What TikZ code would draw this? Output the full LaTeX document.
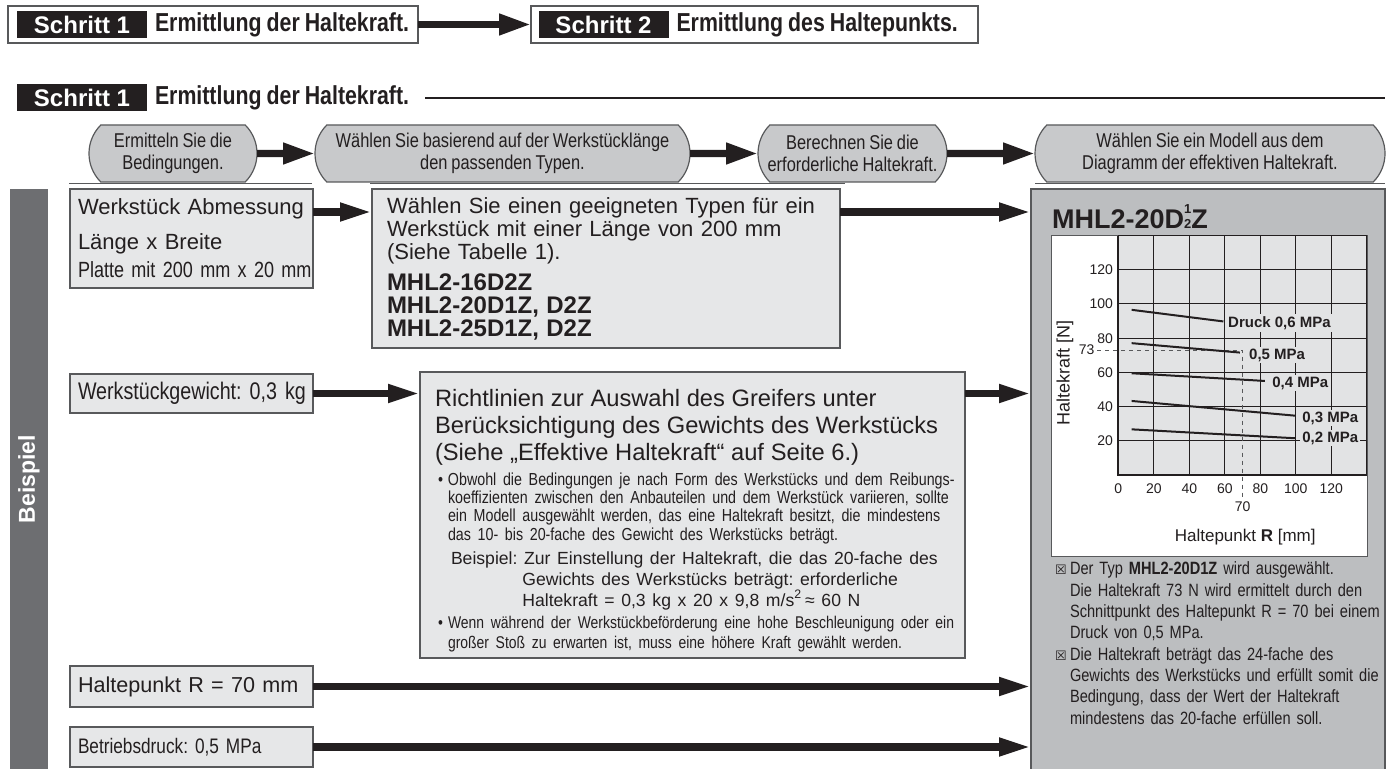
\documentclass[tikz,border=0pt]{standalone}
\usepackage{fontspec}
\setmainfont{Liberation Sans}
\newfontfamily\hknarrow[FakeStretch=0.82,WordSpace=0.85]{Liberation Sans}
\newfontfamily\hksym{DejaVu Sans}
\usetikzlibrary{positioning,arrows.meta,calc,shapes.misc}
\setlength{\parindent}{0pt}
\frenchspacing
\definecolor{hkBlack}{RGB}{35,31,32}
\definecolor{hkBar}{RGB}{109,110,113}
\definecolor{hkLight}{RGB}{230,231,232}
\definecolor{hkBubble}{RGB}{200,201,203}
\definecolor{hkPanel}{RGB}{188,190,192}
\definecolor{hkPlot}{RGB}{226,227,228}
\definecolor{hkEdge}{RGB}{88,89,91}
\tikzset{
    base/.style={inner sep=0pt, outer sep=0pt, text=hkBlack},
    headbox/.style={base, rectangle, draw=hkEdge, line width=0.6pt, fill=white},
    steptag/.style={base, fill=hkBlack, text=white, font=\bfseries\fontsize{12}{14}\selectfont,
                    minimum width=65pt, minimum height=13.5pt},
    headtext/.style={base, font=\hknarrow\bfseries\fontsize{13}{14}\selectfont},
    bubble/.style={base, rounded rectangle, rounded rectangle arc length=90, draw=hkEdge,
                   line width=0.6pt, fill=hkBubble, align=center, minimum height=28.5pt,
                   font=\hknarrow\fontsize{10}{11}\selectfont},
    inbox/.style={base, rectangle, draw=hkEdge, line width=0.6pt, fill=hkLight,
                  align=left, inner xsep=4pt, anchor=north west},
    bar/.style={base, rectangle, fill=hkBar, text=white, font=\bfseries\fontsize{11.5}{13}\selectfont},
    panel/.style={base, rectangle, draw=hkEdge, line width=0.6pt, fill=hkPanel},
    flow/.style={line width=3.6pt, hkBlack, -{Triangle[length=16pt,width=10pt]}},
    feed/.style={line width=3.6pt, hkBlack, -{Triangle[length=16pt,width=8.5pt]}},
    rule/.style={hkEdge, line width=0.5pt},
    gridline/.style={hkBlack, line width=0.5pt},
    axisline/.style={hkBlack, line width=1.1pt},
    curve/.style={hkBlack, line width=1pt},
    guide/.style={hkEdge, line width=0.5pt, dash pattern=on 2pt off 2pt},
    ticktext/.style={base, font=\fontsize{7}{8}\selectfont},
    curvetext/.style={base, anchor=west, fill=hkPlot, inner sep=1pt, font=\bfseries\fontsize{7.5}{8}\selectfont}
}

\begin{document}
\begin{tikzpicture}[x=0.5pt, y=-0.5pt]
  \useasboundingbox (0,0) rectangle (1390,769);

  % Step overview
  \node[headbox, minimum width=205pt, minimum height=18.5pt] (s1) at (213,24.5) {};
  \node[steptag] (l1) at (82,24.5) {Schritt 1};
  \node[headtext, right=4pt of l1] (t1) {Ermittlung der Haltekraft.};
  \node[headbox, minimum width=223.5pt, minimum height=18.5pt] (s2) at (754.5,24.5) {};
  \node[steptag] (l2) at (603.5,24.5) {Schritt 2};
  \node[headtext, right=4pt of l2] (t2) {Ermittlung des Haltepunkts.};
  \draw[flow] (s1) -- (s2);

  % Section title
  \node[steptag] (l3) at (82,98) {Schritt 1};
  \node[headtext, right=4pt of l3] (t3) {Ermittlung der Haltekraft.};
  \coordinate (ruleEnd) at (1385,98);
  \draw[hkBlack, line width=1pt] ([xshift=8pt]t3.east) -- (ruleEnd);

  % Procedure
  \node[bubble, minimum width=84pt] (b1) at (173,153.5) {Ermitteln Sie die\\Bedingungen.};
  \node[bubble, minimum width=187.5pt] (b2) at (502.5,153.5) {Wählen Sie basierend auf der Werkstücklänge\\den passenden Typen.};
  \node[bubble, minimum width=94.5pt] (b3) at (852.5,153.5) {Berechnen Sie die\\erforderliche Haltekraft.};
  \node[bubble, minimum width=175pt] (b4) at (1210,153.5) {Wählen Sie ein Modell aus dem\\Diagramm der effektiven Haltekraft.};
  \draw[flow] (b1) -- (b2);
  \draw[flow] (b2) -- (b3);
  \draw[flow] (b3) -- (b4);
  \draw[rule] (69,184) -- (312,184);
  \draw[rule] (370,184) -- (845,184);
  \draw[rule] (1035,184) -- (1385,184);

  % Example column
  \node[bar, minimum width=19pt, minimum height=290pt] (bsp) at (29,479) {\rotatebox{90}{Beispiel}};

  % Given data
  \node[inbox, text width=113.5pt, minimum height=49.5pt, font=\fontsize{11}{14}\selectfont] (dims) at (70,189)
    {\mbox{Werkstück Abmessung}\\[3.5pt]\mbox{Länge x Breite}\\\mbox{\hknarrow Platte mit 200 mm x 20 mm}};
  \node[inbox, text width=113.5pt, minimum height=19.5pt, font=\hknarrow\fontsize{12}{14}\selectfont] (weight) at (70,374)
    {\mbox{Werkstückgewicht: 0,3 kg}};
  \node[inbox, text width=113.5pt, minimum height=20.5pt, font=\fontsize{10.8}{13}\selectfont] (hold) at (70,666)
    {\mbox{Haltepunkt R = 70 mm}};
  \node[inbox, text width=113.5pt, minimum height=20pt, font=\hknarrow\fontsize{10.5}{13}\selectfont] (press) at (70,727)
    {\mbox{Betriebsdruck: 0,5 MPa}};

  % Type choice
  \node[inbox, inner xsep=7.5pt, text width=219pt, minimum height=79.5pt, font=\fontsize{11}{11.5}\selectfont] (types) at (372,189)
    {Wählen Sie einen geeigneten Typen für ein\\Werkstück mit einer Länge von 200 mm\\(Siehe Tabelle 1).\\[4pt]%
     \bfseries\fontsize{12}{11.5}\selectfont MHL2-16D2Z\\MHL2-20D1Z, D2Z\\MHL2-25D1Z, D2Z};

  % Guideline
  \node[inbox, minimum width=272.5pt, minimum height=143pt] (guide) at (420,372) {};
  \node[base, anchor=north west, text width=280pt, align=left] (guidetext) at (435,389) {%
    {\fontsize{11.85}{13.5}\selectfont Richtlinien zur Auswahl des Greifers unter\\Berücksichtigung des Gewichts des Werkstücks\\(Siehe „Effektive Haltekraft“ auf Seite 6.)\par}
    \vspace{3.3pt}
    {\hknarrow\fontsize{8.7}{9.2}\selectfont \hspace*{1.5pt}\makebox[5pt][l]{•}Obwohl die Bedingungen je nach Form des Werkstücks und dem Reibungs-\\
     \hspace*{6.5pt}koeffizienten zwischen den Anbauteilen und dem Werkstück variieren, sollte\\
     \hspace*{6.5pt}ein Modell ausgewählt werden, das eine Haltekraft besitzt, die mindestens\\
     \hspace*{6.5pt}das 10- bis 20-fache des Gewicht des Werkstücks beträgt.\par}
    \vspace{1.5pt}
    {\fontsize{8.8}{10.5}\selectfont \hspace*{8pt}Beispiel: Zur Einstellung der Haltekraft, die das 20-fache des\\
     \hspace*{43.7pt}Gewichts des Werkstücks beträgt: erforderliche\\
     \hspace*{43.7pt}Haltekraft = 0,3 kg x 20 x 9,8 m/s\textsuperscript{2}\,≈ 60 N\par}
    \vspace{1pt}
    {\hknarrow\fontsize{8.5}{10}\selectfont \hspace*{1.5pt}\makebox[5pt][l]{•}Wenn während der Werkstückbeförderung eine hohe Beschleunigung oder ein\\
     \hspace*{6.5pt}großer Stoß zu erwarten ist, muss eine höhere Kraft gewählt werden.\par}};

  % Chart panel
  \node[panel, minimum width=177pt, minimum height=300pt] (chart) at (1208,489) {};
  \node[base, anchor=west, font=\bfseries\fontsize{13.5}{15}\selectfont] (title) at (1052,217)
    {MHL2-20D\shortstack{\fontsize{6.5}{6}\selectfont 1\\\fontsize{6.5}{6}\selectfont 2}Z};
  \draw[hkEdge, line width=0.5pt, fill=white] (1051,236) rectangle (1367,556);

  \begin{scope}[shift={(1118.3,475)}, x=0.8875pt, y=0.855pt]
    \fill[hkPlot] (0,0) rectangle (140,140);
    \foreach \v in {20,40,...,140} {
      \draw[gridline] (\v,0) -- (\v,140);
      \draw[gridline] (0,\v) -- (140,\v);
    }
    \draw[axisline] (0,140) -- (0,0) -- (140,0);
    \foreach \v in {0,20,...,120}
      \node[ticktext] (xt\v) at (\v,-8.2) {\v};
    \foreach \v in {20,40,...,120}
      \node[ticktext, anchor=east] (yt\v) at (-3,\v) {\v};
    \draw[guide] (-12,73) -- (70,73) -- (70,-14.5);
    \node[ticktext, anchor=east] (y73) at (-13.5,73) {73};
    \node[ticktext] (x70) at (70,-18.3) {70};
    % pressure lines
    \draw[curve] (7.5,96.6) -- (59.2,89.8);
    \draw[curve] (7.5,77.1) -- (68.5,71.6);
    \draw[curve] (7.5,59.5) -- (82.6,55);
    \draw[curve] (7.5,43.3) -- (99.5,34.7);
    \draw[curve] (7.5,26.7) -- (99.5,21.5);
    \node[curvetext] (p6) at (60.8,88.9) {Druck 0,6 MPa};
    \node[curvetext] (p5) at (72.6,70.2) {0,5 MPa};
    \node[curvetext] (p4) at (85.6,53.8) {0,4 MPa};
    \node[curvetext] (p3) at (102.5,33.3) {0,3 MPa};
    \node[curvetext] (p2) at (102.5,21.6) {0,2 MPa};
    \node[base, rotate=90, font=\fontsize{9}{10}\selectfont] (ylab) at (-30,59.6) {Haltekraft [N]};
    \node[base, font=\fontsize{8.5}{10}\selectfont] (xlab) at (71.5,-36.3) {Haltepunkt \textbf{R} [mm]};
  \end{scope}

  \node[base, anchor=north west, text width=200pt, align=left, font=\hknarrow\fontsize{8.9}{10.65}\selectfont] (result) at (1055,562) {%
    \makebox[7.5pt][l]{\hksym\fontsize{6.5}{7}\selectfont ☒}Der Typ \textbf{MHL2-20D1Z} wird ausgewählt.\\
    \hspace*{7.5pt}Die Haltekraft 73 N wird ermittelt durch den\\
    \hspace*{7.5pt}Schnittpunkt des Haltepunkt R = 70 bei einem\\
    \hspace*{7.5pt}Druck von 0,5 MPa.\\
    \makebox[7.5pt][l]{\hksym\fontsize{6.5}{7}\selectfont ☒}Die Haltekraft beträgt das 24-fache des\\
    \hspace*{7.5pt}Gewichts des Werkstücks und erfüllt somit die\\
    \hspace*{7.5pt}Bedingung, dass der Wert der Haltekraft\\
    \hspace*{7.5pt}mindestens das 20-fache erfüllen soll.};

  % Arrows into the chart
  \coordinate (rowA) at (0,212);
  \draw[feed] (dims.east |- rowA) -- (types.west |- rowA);
  \draw[feed] (types.east |- rowA) -- (chart.west |- rowA);
  \draw[feed] (weight.east) -- (weight.east -| guide.west);
  \draw[feed] (guide.east |- weight.east) -- (chart.west |- weight.east);
  \draw[feed] (hold.east) -- (hold.east -| chart.west);
  \draw[feed] (press.east) -- (press.east -| chart.west);
\end{tikzpicture}
\end{document}
